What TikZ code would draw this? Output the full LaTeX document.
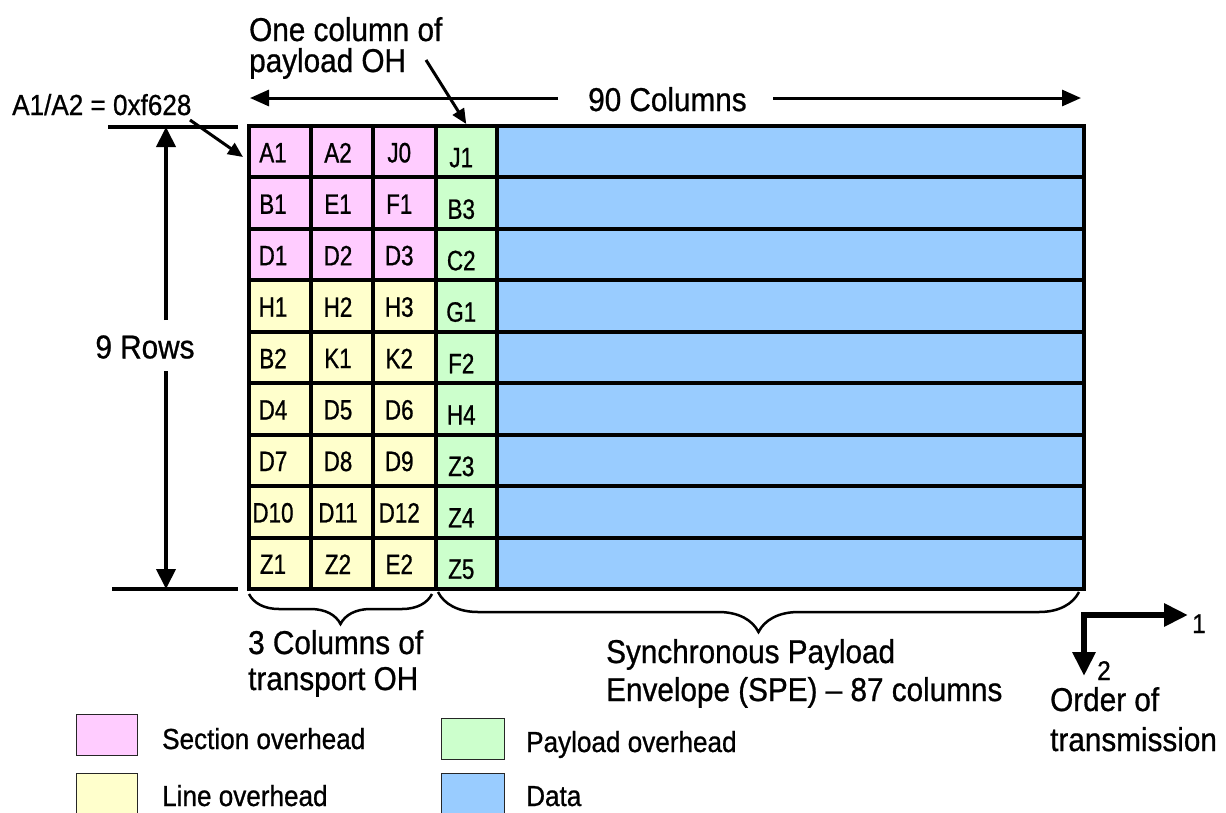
\documentclass[tikz,border=0pt]{standalone}
\usepackage{fontspec}
\setmainfont[FakeStretch=0.9,FakeBold=0.8]{Liberation Sans}
\newfontfamily\cellfont[FakeStretch=0.8,FakeBold=0.8]{Liberation Sans}
\usetikzlibrary{arrows.meta,decorations.pathreplacing,calc}
\definecolor{secpink}{HTML}{FFCCFF}
\definecolor{lineyel}{HTML}{FFFFCC}
\definecolor{paygreen}{HTML}{CCFFCC}
\definecolor{datablue}{HTML}{99CCFF}
\begin{document}
\begin{tikzpicture}[x=1pt,y=-1pt,
  cellbox/.style={draw=black, line width=4pt, inner sep=0pt, minimum height=51.44pt, anchor=north west},
  celltxt/.style={font=\cellfont\fontsize{28}{30}\selectfont, inner sep=0pt},
  lbl/.style={font=\fontsize{33}{35}\selectfont, inner sep=0pt, anchor=base west},
  leglbl/.style={lbl, font=\fontsize{29}{31}\selectfont},
  legbox/.style={draw=black!85, line width=1.3pt, inner sep=0pt, minimum width=61pt, minimum height=41pt, anchor=north west},
  bigarr/.style={line width=4pt, -{Triangle[length=20pt,width=19pt]}},
  midarr/.style={line width=3pt, -{Triangle[length=19pt,width=16pt]}},
  smallarr/.style={line width=3pt, -{Triangle[length=15pt,width=13pt]}},
  ordarr/.style={line width=6pt, -{Triangle[length=24pt,width=22pt]}},
  plain/.style={line width=4pt},
  bracestyle/.style={line width=2.5pt, decorate}
]
\useasboundingbox (0,0) rectangle (1226,812);

% grid
\foreach \r/\a/\b/\c/\d/\f in {0/A1/A2/J0/J1/secpink, 1/B1/E1/F1/B3/secpink, 2/D1/D2/D3/C2/secpink,
  3/H1/H2/H3/G1/lineyel, 4/B2/K1/K2/F2/lineyel, 5/D4/D5/D6/H4/lineyel,
  6/D7/D8/D9/Z3/lineyel, 7/D10/D11/D12/Z4/lineyel, 8/Z1/Z2/E2/Z5/lineyel}
{
  \pgfmathsetmacro\yy{124+\r*51.44}
  \node[cellbox, fill=\f, minimum width=62pt] (a\r) at (247,\yy) {};
  \node[cellbox, fill=\f, minimum width=62pt] (b\r) at (309,\yy) {};
  \node[cellbox, fill=\f, minimum width=62.5pt] (c\r) at (371,\yy) {};
  \node[cellbox, fill=paygreen, minimum width=61.5pt] (d\r) at (433.5,\yy) {};
  \node[cellbox, fill=datablue, minimum width=587pt] (e\r) at (495,\yy) {};
  \node[celltxt] (ta\r) at ($(a\r.center)+(-7,1)$) {\a};
  \node[celltxt] (tb\r) at ($(b\r.center)+(-4,1)$) {\b};
  \node[celltxt] (tc\r) at ($(c\r.center)+(-5,1)$) {\c};
  \node[celltxt] (td\r) at ($(d\r.center)+(-5,6)$) {\d};
}

% top labels
\node[lbl] (onecol) at (249,41) {One column of};
\node[lbl] (payoh) at (249,72) {payload OH};
\node[lbl, font=\fontsize{29}{31}\selectfont] (a1a2) at (12,115) {A1/A2 = 0xf628};
\node[lbl] (cols) at (588,111) {90 Columns};

\coordinate (colL1) at (558,98);
\coordinate (colL2) at (250,98);
\coordinate (colR1) at (773,98);
\coordinate (colR2) at (1081,98);
\draw[midarr] (colL1) -- (colL2);
\draw[midarr] (colR1) -- (colR2);

\coordinate (poh1) at (426,60);
\draw[smallarr] (poh1) -- (d0.north);
\coordinate (aa1) at (190,120);
\coordinate (aa2) at (243,157);
\draw[smallarr] (aa1) -- (aa2);

% 9 rows
\node[font=\fontsize{33}{35}\selectfont, inner sep=0pt] (rows) at (145,347) {9 Rows};
\coordinate (ht1) at (108,127);
\coordinate (ht2) at (238,127);
\coordinate (hb1) at (112,589);
\coordinate (hb2) at (238,589);
\draw[plain] (ht1) -- (ht2);
\draw[plain] (hb1) -- (hb2);
\coordinate (rv1) at (166,320);
\coordinate (rv2) at (166,127);
\coordinate (rv3) at (166,371);
\coordinate (rv4) at (166,589);
\draw[bigarr] (rv1) -- (rv2);
\draw[bigarr] (rv3) -- (rv4);

% braces
\coordinate (bl1) at (249,594);
\coordinate (bl2) at (432,594);
\coordinate (br1) at (438,592);
\coordinate (br2) at (1079,592);
\draw[bracestyle, decoration={brace, mirror, amplitude=30pt}] (bl1) -- (bl2);
\draw[bracestyle, decoration={brace, mirror, amplitude=40pt}] (br1) -- (br2);

\node[lbl] (tc1) at (248,654) {3 Columns of};
\node[lbl] (tc2) at (248,690) {transport OH};
\node[lbl] (spe1) at (606,663) {Synchronous Payload};
\node[lbl] (spe2) at (606,701) {Envelope (SPE) -- 87 columns};

% order of transmission
\coordinate (oc) at (1084,615);
\coordinate (o1) at (1188,615);
\coordinate (o2) at (1084,676);
\draw[ordarr] ($(oc)+(-3,0)$) -- (o1);
\draw[ordarr] (oc) -- (o2);
\node[lbl, font=\fontsize{27}{29}\selectfont] (n1) at (1192,633) {1};
\node[lbl, font=\fontsize{27}{29}\selectfont] (n2) at (1097,680) {2};
\node[lbl] (ord1) at (1050,711) {Order of};
\node[lbl] (ord2) at (1050,751) {transmission};

% legend
\node[legbox, fill=secpink] (lg1) at (76,714) {};
\node[legbox, fill=lineyel] (lg2) at (76,773) {};
\node[legbox, fill=paygreen, minimum width=63pt] (lg3) at (441,718) {};
\node[legbox, fill=datablue, minimum width=63pt] (lg4) at (441,773) {};
\node[leglbl] (lt1) at (162,749) {Section overhead};
\node[leglbl] (lt2) at (162,806) {Line overhead};
\node[leglbl] (lt3) at (526,752) {Payload overhead};
\node[leglbl] (lt4) at (526,806) {Data};
\end{tikzpicture}
\end{document}
